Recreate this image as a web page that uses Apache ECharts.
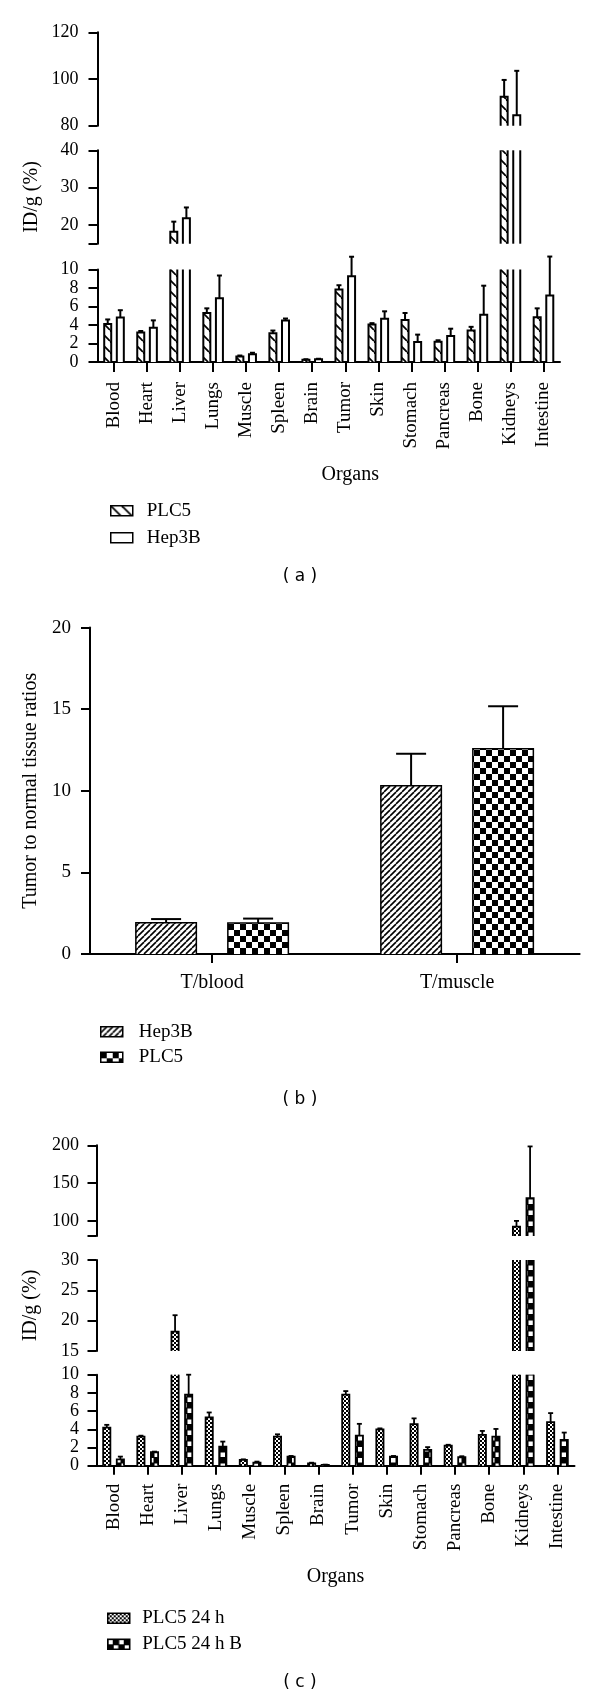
<!DOCTYPE html>
<html><head><meta charset="utf-8">
<script src="https://cdn.jsdelivr.net/npm/echarts@6/dist/echarts.min.js"></script>
<style>html,body{margin:0;padding:0;background:#fff}#c{width:600px;height:1698px}</style>
</head><body><div id="c"></div>
<script>
// ---------- DATA ----------
const organs = ['Blood','Heart','Liver','Lungs','Muscle','Spleen','Brain','Tumor','Skin','Stomach','Pancreas','Bone','Kidneys','Intestine'];
// panel (a): mean and SD (upper error)
const aPLC5    = [4.1, 3.2, 18.2, 5.3, 0.6, 3.1, 0.25, 7.85, 4.05, 4.55, 2.2, 3.4, 92.4, 4.85];
const aPLC5Sd  = [0.5, 0.15, 2.7, 0.5, 0.1, 0.3, 0.05, 0.45, 0.15, 0.75, 0.15, 0.4, 7.2, 0.95];
const aHep3B   = [4.8, 3.7, 21.8, 6.9, 0.83, 4.5, 0.3, 9.28, 4.68, 2.16, 2.8, 5.1, 84.5, 7.2];
const aHep3BSd = [0.8, 0.8, 2.9, 2.45, 0.17, 0.2, 0.05, 2.1, 0.8, 0.8, 0.8, 3.15, 19, 4.2];
// panel (b)
const ratioCats = ['T/blood', 'T/muscle'];
const bHep3B   = [1.92, 10.31];
const bHep3BSd = [0.22, 1.96];
const bPLC5    = [1.9, 12.58];
const bPLC5Sd  = [0.27, 2.6];
// panel (c)
const c24h    = [4.19, 3.2, 18.2, 5.3, 0.63, 3.2, 0.26, 7.8, 4.0, 4.56, 2.2, 3.38, 92.5, 4.78];
const c24hSd  = [0.3, 0.1, 2.7, 0.55, 0.07, 0.25, 0.07, 0.4, 0.1, 0.64, 0.1, 0.44, 7.5, 1.0];
const c24hB   = [0.7, 1.48, 7.8, 2.1, 0.33, 1.0, 0.1, 3.3, 1.0, 1.74, 0.93, 3.2, 130, 2.83];
const c24hBSd = [0.3, 0.07, 2.2, 0.55, 0.12, 0.07, 0.02, 1.3, 0.07, 0.3, 0.11, 0.84, 68.5, 0.81];
// tick values / labels
const aTopTicks = [80, 100, 120];
const aMidTicks = [15, 20, 30, 40];
const aMidLabels = [20, 30, 40];
const aBotTicks = [0, 2, 4, 6, 8, 10];
const bTicks = [0, 5, 10, 15, 20];
const cTopTicks = [80, 100, 150, 200];
const cTopLabels = [100, 150, 200];
const cMidTicks = [15, 20, 25, 30];
const cBotTicks = [0, 2, 4, 6, 8, 10];

// ---------- PATTERNS ----------
function makePattern(size, bg, draw) {
  const cv = document.createElement('canvas'); cv.width = size; cv.height = size;
  const ctx = cv.getContext('2d');
  ctx.fillStyle = bg; ctx.fillRect(0, 0, size, size);
  draw(ctx, size);
  return { image: cv, repeat: 'repeat' };
}
const hatchBack = makePattern(11, '#fff', (ctx, s) => {
  ctx.strokeStyle = '#000'; ctx.lineWidth = 1.8;
  for (let k = -1; k <= 1; k++) { ctx.beginPath(); ctx.moveTo(k * s, 0); ctx.lineTo(k * s + s, s); ctx.stroke(); }
});
const hatchFwd = makePattern(6, '#fff', (ctx, s) => {
  ctx.strokeStyle = '#000'; ctx.lineWidth = 1.6;
  for (let k = -1; k <= 1; k++) { ctx.beginPath(); ctx.moveTo(k * s, s); ctx.lineTo(k * s + s, 0); ctx.stroke(); }
});
const checkBig = makePattern(12, '#fff', (ctx) => {
  ctx.fillStyle = '#000'; ctx.fillRect(0, 0, 6, 6); ctx.fillRect(6, 6, 6, 6);
});
const checkSmall = makePattern(4, '#fff', (ctx) => {
  ctx.fillStyle = '#000'; ctx.fillRect(0, 0, 2, 2); ctx.fillRect(2, 2, 2, 2);
});
const blockWhite = makePattern(11, '#000', (ctx) => {
  ctx.fillStyle = '#fff'; ctx.fillRect(0.5, 0.5, 4.5, 4.5); ctx.fillRect(6, 6, 4.5, 4.5);
});
const plainWhite = '#fff';

// ---------- HELPERS ----------
const SERIF = 'Liberation Serif';
function barSeries(name, xi, values, sds, seg, cfg) {
  return {
    type: 'custom', name: name, xAxisIndex: xi, yAxisIndex: xi,
    itemStyle: { color: cfg.fill, borderColor: '#000', borderWidth: cfg.lw },
    encode: { x: 0, y: 1 },
    data: values.map((v, i) => [i, v, sds[i]]),
    renderItem: function (params, api) {
      const i = api.value(0), v = api.value(1), sd = api.value(2);
      if (!(v > seg.min)) return null;
      const base = api.coord([i, seg.min]);
      const clipped = v > seg.max;
      const top = api.coord([i, clipped ? seg.max : v]);
      const cx = base[0] + cfg.offset;
      const x0 = cx - cfg.w / 2, x1 = cx + cfg.w / 2;
      const ls = { stroke: '#000', lineWidth: cfg.lw, fill: null };
      const ch = [{ type: 'rect', shape: { x: x0, y: top[1], width: cfg.w, height: base[1] - top[1] }, style: { fill: cfg.fill } }];
      if (clipped) {
        ch.push({ type: 'line', shape: { x1: x0, y1: base[1], x2: x0, y2: top[1] }, style: ls });
        ch.push({ type: 'line', shape: { x1: x1, y1: base[1], x2: x1, y2: top[1] }, style: ls });
      } else {
        const e = api.coord([i, v + sd]);
        const es = { stroke: '#000', lineWidth: cfg.elw, fill: null };
        ch.push({ type: 'line', shape: { x1: cx, y1: top[1], x2: cx, y2: e[1] }, style: es });
        ch.push({ type: 'line', shape: { x1: cx - cfg.cap / 2, y1: e[1], x2: cx + cfg.cap / 2, y2: e[1] }, style: es });
        ch.push({ type: 'polyline', shape: { points: [[x0, base[1]], [x0, top[1]], [x1, top[1]], [x1, base[1]]] }, style: ls });
      }
      return { type: 'group', children: ch };
    }
  };
}
function yAx(gi, min, max, ticks, labels, fs, margin, tickLen, extra) {
  return Object.assign({
    type: 'value', gridIndex: gi, min: min, max: max,
    axisLine: { show: true, lineStyle: { color: '#000', width: 2 } },
    axisTick: { show: true, length: tickLen, customValues: ticks, lineStyle: { color: '#000', width: 2 } },
    axisLabel: { show: true, customValues: labels, color: '#000', fontFamily: SERIF, fontSize: fs, margin: margin },
    splitLine: { show: false }
  }, extra || {});
}
function xHidden(gi, cats) {
  return { type: 'category', gridIndex: gi, data: cats, show: false, boundaryGap: true };
}
function xShown(gi, cats, opts) {
  return {
    type: 'category', gridIndex: gi, data: cats, boundaryGap: true,
    axisLine: { show: true, lineStyle: { color: '#000', width: 2 } },
    axisTick: { show: true, alignWithLabel: true, length: opts.tickLen, lineStyle: { color: '#000', width: 2 } },
    axisLabel: { interval: 0, rotate: opts.rotate, color: '#000', fontFamily: SERIF, fontSize: opts.fs, margin: opts.margin },
    name: opts.name, nameLocation: 'middle', nameGap: opts.nameGap,
    nameTextStyle: { color: '#000', fontFamily: SERIF, fontSize: 20, padding: opts.namePad || 0 }
  };
}
function legendBox(left, top, gap, pad, items) {
  return {
    orient: 'vertical', left: left, top: top, itemWidth: 22, itemHeight: 10, itemGap: gap, icon: 'rect',
    selectedMode: false,
    textStyle: { color: '#000', fontFamily: SERIF, fontSize: 19, lineHeight: 19, padding: [0, 0, 0, pad] },
    data: items.map(it => ({ name: it[0], itemStyle: { color: it[1], borderColor: '#000', borderWidth: 1.5 } }))
  };
}

const segA = [{ min: 80, max: 120 }, { min: 15, max: 40 }, { min: 0, max: 10 }];
const segC = [{ min: 80, max: 200 }, { min: 15, max: 30 }, { min: 0, max: 10 }];
const cfgA1 = { fill: hatchBack, lw: 2, elw: 2, w: 7, offset: -6.3, cap: 5 };
const cfgA2 = { fill: plainWhite, lw: 2, elw: 2, w: 7, offset: 6.3, cap: 5 };
const cfgB1 = { fill: hatchFwd, lw: 1.5, elw: 2, w: 60.5, offset: -46, cap: 30 };
const cfgB2 = { fill: checkBig, lw: 1.5, elw: 2, w: 60.5, offset: 46, cap: 30 };
const cfgC1 = { fill: checkSmall, lw: 1.8, elw: 1.8, w: 7.2, offset: -6.8, cap: 5 };
const cfgC2 = { fill: blockWhite, lw: 1.8, elw: 1.8, w: 7.2, offset: 6.8, cap: 5 };

const series = [];
for (let s = 0; s < 3; s++) {
  series.push(barSeries('PLC5', s, aPLC5, aPLC5Sd, segA[s], cfgA1));
  series.push(barSeries('Hep3B', s, aHep3B, aHep3BSd, segA[s], cfgA2));
}
series.push(barSeries('Hep3B', 3, bHep3B, bHep3BSd, { min: 0, max: 20 }, cfgB1));
series.push(barSeries('PLC5', 3, bPLC5, bPLC5Sd, { min: 0, max: 20 }, cfgB2));
for (let s = 0; s < 3; s++) {
  series.push(barSeries('PLC5 24 h', 4 + s, c24h, c24hSd, segC[s], cfgC1));
  series.push(barSeries('PLC5 24 h B', 4 + s, c24hB, c24hBSd, segC[s], cfgC2));
}

const capStyle = (t) => ({ text: t, font: '17px "DejaVu Sans"', fill: '#000', textAlign: 'center', textVerticalAlign: 'middle', align: 'center', verticalAlign: 'middle' });
const option = {
  animation: false,
  backgroundColor: '#fff',
  grid: [
    { left: 97.5, top: 32.3, width: 462.5, height: 93.4, outerBoundsMode: 'none' },
    { left: 97.5, top: 150.3, width: 462.5, height: 93.4, outerBoundsMode: 'none' },
    { left: 97.5, top: 269.5, width: 462.5, height: 92.5, outerBoundsMode: 'none' },
    { left: 89.6, top: 627.6, width: 490, height: 326.4, outerBoundsMode: 'none' },
    { left: 96.5, top: 1145.3, width: 478, height: 90.7, outerBoundsMode: 'none' },
    { left: 96.5, top: 1260, width: 478, height: 91, outerBoundsMode: 'none' },
    { left: 96.5, top: 1374.7, width: 478, height: 91, outerBoundsMode: 'none' }
  ],
  xAxis: [
    xHidden(0, organs), xHidden(1, organs),
    xShown(2, organs, { tickLen: 10, rotate: 90, fs: 19, margin: 20, name: 'Organs', nameGap: 103, namePad: [0, 0, 0, 43] }),
    xShown(3, ratioCats, { tickLen: 9, rotate: 0, fs: 20, margin: 19, name: '', nameGap: 0 }),
    xHidden(4, organs), xHidden(5, organs),
    xShown(6, organs, { tickLen: 9, rotate: 90, fs: 19, margin: 18, name: 'Organs', nameGap: 101 })
  ],
  yAxis: [
    yAx(0, 80, 120, aTopTicks, aTopTicks, 18, 19, 9),
    yAx(1, 15, 40, aMidTicks, aMidLabels, 18, 19, 9, { name: 'ID/g (%)', nameLocation: 'middle', nameGap: 56, nameTextStyle: { color: '#000', fontFamily: SERIF, fontSize: 20 } }),
    yAx(2, 0, 10, aBotTicks, aBotTicks, 18, 19, 9),
    yAx(3, 0, 20, bTicks, bTicks, 19, 18.6, 8.6, { name: 'Tumor to normal tissue ratios', nameLocation: 'middle', nameGap: 48.6, nameTextStyle: { color: '#000', fontFamily: SERIF, fontSize: 20 } }),
    yAx(4, 80, 200, cTopTicks, cTopLabels, 18, 17.5, 9),
    yAx(5, 15, 30, cMidTicks, cMidTicks, 18, 17.5, 9, { name: 'ID/g (%)', nameLocation: 'middle', nameGap: 56, nameTextStyle: { color: '#000', fontFamily: SERIF, fontSize: 20 } }),
    yAx(6, 0, 10, cBotTicks, cBotTicks, 18, 17.5, 9)
  ],
  legend: [
    legendBox(105, 496.2, 8, 9, [['PLC5', hatchBack], ['Hep3B', plainWhite]]),
    legendBox(95, 1017.2, 6.6, 11, [['Hep3B', hatchFwd], ['PLC5', checkBig]]),
    legendBox(102, 1603.8, 7, 7.5, [['PLC5 24 h', checkSmall], ['PLC5 24 h B', blockWhite]])
  ],
  graphic: [
    { type: 'text', x: 300, y: 577, style: capStyle('( a )') },
    { type: 'text', x: 300, y: 1100, style: capStyle('( b )') },
    { type: 'text', x: 300, y: 1683, style: capStyle('( c )') }
  ],
  series: series
};
const chart = echarts.init(document.getElementById('c'), null, { renderer: 'canvas', width: 600, height: 1698 });
chart.setOption(option);
</script>
</body></html>
